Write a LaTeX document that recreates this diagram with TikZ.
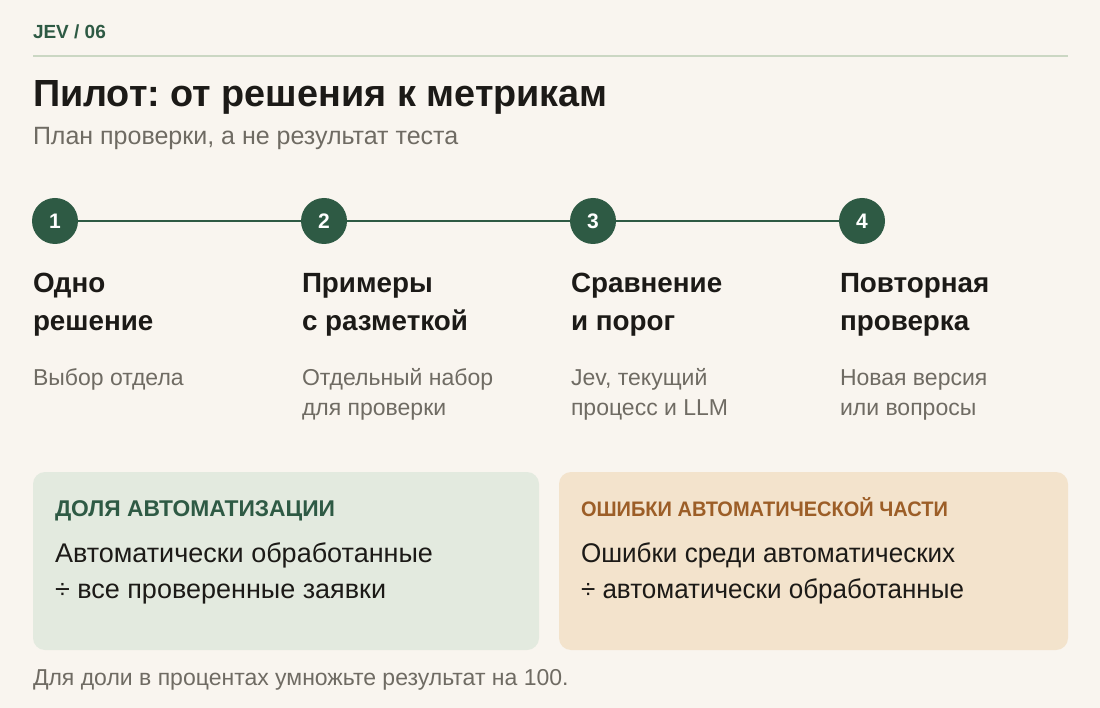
\documentclass[tikz,border=0pt]{standalone}
\usepackage{fontspec}
\setmainfont{Liberation Sans}
\frenchspacing
\definecolor{bg}{HTML}{F9F5EF}
\definecolor{dkgreen}{HTML}{2E5A44}
\definecolor{rule}{HTML}{CBD7C3}
\definecolor{gray}{HTML}{6F6B63}
\definecolor{ink}{HTML}{1C1A17}
\definecolor{boxg}{HTML}{E3EADF}
\definecolor{boxo}{HTML}{F3E3CC}
\definecolor{brown}{HTML}{9C5E27}
\tikzset{
  txt/.style={anchor=base west, inner sep=0pt, outer sep=0pt},
  stepnum/.style={circle, fill=dkgreen, minimum size=46pt, inner sep=0pt, text=white, font=\fontsize{21}{24}\selectfont\bfseries},
  steptitle/.style={txt, text=ink, font=\fontsize{27.8}{38}\selectfont\bfseries, align=left},
  stepdesc/.style={txt, text=gray, font=\fontsize{23}{30}\selectfont, align=left},
  card/.style={rounded corners=12pt, draw=none},
  cardhead/.style={txt, font=\fontsize{22.8}{26}\selectfont\bfseries},
  cardbody/.style={txt, text=ink, font=\fontsize{27}{36}\selectfont, align=left},
}
\begin{document}
\begin{tikzpicture}[x=1pt,y=-1pt]
\fill[bg] (0,0) rectangle (1100,708);
\useasboundingbox (0,0) rectangle (1100,708);
\node[txt, text=dkgreen, font=\fontsize{19}{22}\selectfont\bfseries] (tag) at (33,39) {JEV / 06};
\coordinate (rl) at (33,56);
\coordinate (rr) at (1068,56);
\draw[rule, line width=2pt] (rl) -- (rr);
\node[txt, text=ink, font=\fontsize{37.8}{42}\selectfont\bfseries] (title) at (33,107) {Пилот: от решения к метрикам};
\node[txt, text=gray, font=\fontsize{25}{28}\selectfont] (sub) at (33,145) {План проверки, а не результат теста};

\node[stepnum] (c1) at (55,221) {1};
\node[stepnum] (c2) at (324,221) {2};
\node[stepnum] (c3) at (593,221) {3};
\node[stepnum] (c4) at (862,221) {4};
\draw[dkgreen, line width=2pt] (c1) -- (c2) (c2) -- (c3) (c3) -- (c4);

\node[steptitle] (t1) at (33,331) {Одно\\решение};
\node[steptitle] (t2) at (302,331) {Примеры\\с разметкой};
\node[steptitle] (t3) at (571,331) {Сравнение\\и порог};
\node[steptitle] (t4) at (840,331) {Повторная\\проверка};

\node[stepdesc] (d1) at (33,385) {Выбор отдела};
\node[stepdesc] (d2) at (302,415) {Отдельный набор\\для проверки};
\node[stepdesc] (d3) at (571,415) {Jev, текущий\\процесс и LLM};
\node[stepdesc] (d4) at (840,415) {Новая версия\\или вопросы};

\fill[card, boxg] (33,472) rectangle (539,650);
\fill[card, boxo] (559,472) rectangle (1068,650);
\node[cardhead, text=dkgreen] (h1) at (55,516) {ДОЛЯ АВТОМАТИЗАЦИИ};
\node[cardhead, text=brown, font=\fontsize{21}{26}\selectfont\bfseries\addfontfeature{FakeStretch=0.953}] (h2) at (581,516) {ОШИБКИ АВТОМАТИЧЕСКОЙ ЧАСТИ};
\node[cardbody] (b1) at (55,598) {Автоматически обработанные\\÷ все проверенные заявки};
\node[cardbody, font=\fontsize{27}{36}\selectfont\addfontfeature{FakeStretch=0.964}] (b2) at (581,598) {Ошибки среди автоматических\\÷ автоматически обработанные};

\node[stepdesc] (foot) at (33,685) {Для доли в процентах умножьте результат на 100.};
\end{tikzpicture}
\end{document}
